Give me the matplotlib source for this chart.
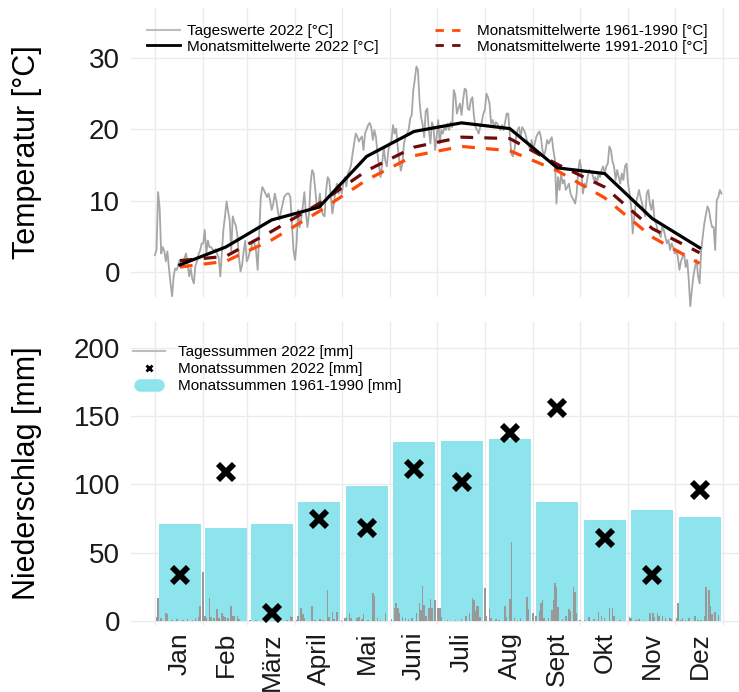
import matplotlib
matplotlib.use("Agg")
import matplotlib.pyplot as plt
from matplotlib.lines import Line2D
from matplotlib.legend_handler import HandlerBase

plt.rcParams['font.family'] = ['Liberation Sans', 'DejaVu Sans']

# ---------------- data ----------------
months = ["Jan", "Feb", "März", "April", "Mai", "Juni", "Juli", "Aug", "Sept", "Okt", "Nov", "Dez"]
month_mid = [17, 46.5, 76, 106.5, 137, 167.5, 198, 229, 259.5, 290, 320.5, 351]
month_start = [1, 32, 60, 91, 121, 152, 182, 213, 244, 274, 305, 335, 366]

temp_daily_2022 = [
    # Jan
    2.4, 3.1, 11.2, 9.0, 2.6, 3.5, 2.9, 1.5, 2.9, 0.5, -1.6, -3.4, -0.6, 0.5, 0.3, 1.0,
    1.7, 1.2, 0.9, 2.0, 2.6, 1.0, -0.6, 0.5, -1.0, -1.6, 0.9, 1.5, 2.5, 3.0, 4.0,
    # Feb
    4.0, 5.9, 2.6, 4.4, 3.5, 3.5, 3.2, 2.9, 3.2, 2.5, 2.0, -0.6, 2.6, 6.0, 7.8, 9.9,
    8.5, 7.3, 3.0, 7.8, 7.0, 6.5, 5.0, 2.0, 0.1, 1.0, 2.9, 4.4,
    # Mar
    1.5, 2.0, 2.9, 3.5, 4.4, 4.0, 2.9, 0.3, 5.4, 10.5, 11.9, 11.5, 11.0, 10.5, 11.0, 10.0,
    8.7, 9.5, 11.0, 10.0, 8.5, 7.3, 8.5, 9.5, 10.5, 10.8, 11.0, 11.0, 10.5, 6.8, 3.1,
    # Apr
    1.7, 4.0, 8.7, 6.3, 7.5, 9.2, 11.2, 8.2, 6.3, 8.2, 12.4, 14.3, 13.8, 11.5, 9.2, 9.2,
    11.0, 8.7, 8.0, 7.8, 11.5, 13.3, 12.9, 10.5, 8.2, 9.6, 11.5, 12.4, 11.0, 12.0,
    # May
    11.0, 12.4, 13.3, 12.0, 13.8, 14.3, 15.0, 16.6, 18.0, 19.4, 19.0, 18.3, 18.7, 19.0, 17.1, 19.4,
    20.0, 20.6, 20.9, 20.3, 18.5, 19.9, 18.9, 16.6, 14.8, 13.3, 15.2, 17.5, 15.6, 14.8, 17.1,
    # Jun
    18.0, 18.5, 20.6, 19.4, 20.1, 17.5, 15.6, 14.2, 15.2, 18.0, 19.0, 19.4, 19.9, 21.5, 22.0, 25.5,
    27.0, 28.8, 28.3, 24.0, 21.7, 20.7, 18.9, 22.6, 22.9, 19.9, 18.0, 21.0, 20.3, 17.1,
    # Jul
    19.0, 21.3, 18.0, 19.9, 19.4, 20.3, 19.9, 20.8, 19.9, 21.0, 20.3, 25.5, 24.8, 22.2, 23.0, 23.6,
    22.0, 24.1, 25.7, 25.5, 22.9, 22.7, 24.1, 24.5, 21.8, 20.3, 19.9, 19.4, 20.3, 21.0, 22.2,
    # Aug
    22.7, 25.0, 24.5, 23.6, 20.8, 21.3, 20.3, 21.0, 20.8, 20.3, 19.9, 20.6, 19.9, 21.0, 22.2, 22.2,
    19.4, 16.6, 16.2, 17.1, 18.9, 19.9, 20.3, 18.9, 20.3, 19.9, 19.4, 18.5, 18.0, 17.1, 18.5,
    # Sep
    17.1, 18.0, 18.9, 19.4, 19.7, 18.9, 17.1, 16.2, 17.1, 18.5, 18.0, 18.5, 18.9, 17.1, 15.7, 9.6,
    13.3, 11.5, 13.8, 12.4, 12.9, 11.5, 11.9, 12.4, 11.0, 10.5, 10.1, 9.6, 11.0, 14.3,
    # Oct
    15.7, 14.3, 11.0, 12.4, 11.9, 13.3, 14.3, 14.0, 13.8, 12.9, 13.3, 12.4, 13.8, 13.3, 14.3, 14.8,
    13.8, 14.8, 15.2, 17.6, 17.1, 15.5, 14.8, 12.9, 14.3, 13.3, 12.4, 13.8, 12.9, 14.8, 15.2,
    # Nov
    12.4, 11.0, 9.2, 5.4, 7.8, 9.6, 10.5, 11.5, 10.5, 9.6, 8.7, 7.8, 11.0, 11.5, 9.6, 8.7,
    10.1, 7.3, 6.8, 5.9, 5.4, 4.9, 6.3, 5.9, 4.9, 4.0, 4.5, 3.1, 4.0, 3.5,
    # Dec
    2.6, 3.1, 2.1, 0.3, 1.5, 2.1, 2.6, 0.7, 1.7, -1.1, -4.8, -2.5, -0.6, 0.7, 1.7, -0.6,
    -1.6, 3.1, 4.9, 6.8, 8.0, 9.2, 8.7, 7.3, 6.3, 6.3, 3.1, 10.1, 10.5, 11.5, 11.0,
]
days = list(range(1, len(temp_daily_2022) + 1))

temp_mean_2022 = [1.0, 3.5, 7.3, 9.1, 16.2, 19.7, 20.9, 20.1, 14.6, 13.8, 7.5, 3.4]
temp_mean_1961_1990 = [0.7, 1.5, 4.5, 8.5, 12.9, 16.3, 17.6, 17.0, 14.2, 10.4, 4.9, 1.2]
temp_mean_1991_2010 = [1.6, 2.2, 5.7, 9.6, 14.2, 17.5, 18.9, 18.7, 15.1, 11.9, 6.1, 2.7]

precip_sum_2022 = [34, 109, 6, 75, 68, 111, 102, 138, 156, 61, 34, 96]
precip_sum_1961_1990 = [71, 68, 71, 87, 99, 131, 132, 133, 87, 74, 81, 76]

precip_days = [
    2, 3, 5, 8, 9, 12, 15, 19, 22, 25, 27, 29, 30,
    32, 33, 34, 36, 37, 39, 41, 42, 44, 45, 46, 48, 50, 51, 52, 54, 55,
    62, 66, 78, 86, 88, 89,
    92, 93, 95, 96, 97, 102, 104, 107, 109, 112, 113, 115, 116, 118,
    121, 123, 124, 126, 127, 131, 132, 134, 135, 138, 141, 142, 144, 146, 149,
    153, 155, 156, 157, 158, 160, 162, 164, 166, 169, 171, 172, 173, 174, 175, 177, 178, 179, 181,
    183, 184, 185, 189, 194, 198, 201, 203, 205, 206, 207, 208, 209, 210,
    213, 214, 216, 217, 220, 222, 226, 227, 229, 230, 232, 234, 236, 240, 241,
    244, 246, 248, 249, 250, 251, 254, 256, 257, 258, 259, 260, 263, 265, 267, 268, 270, 271, 272,
    274, 277, 280, 283, 286, 288, 290, 293, 295, 296, 300,
    306, 307, 310, 312, 315, 319, 321, 322, 324, 325, 327, 329, 332, 333,
    336, 337, 339, 340, 342, 344, 348, 350, 352, 354, 355, 357, 358, 359, 361, 363,
]
precip_mm = [
    3, 16.6, 2, 5.6, 5, 1, 1.2, 1, 1.5, 1, 2, 3, 11,
    36, 3.7, 2, 17, 3, 2, 8.5, 2, 5.6, 4, 3, 2.5, 11, 4, 3.7, 3.7, 1.5,
    0.5, 0.5, 0.5, 1, 4, 3,
    1, 3.7, 9.3, 5, 2.5, 11, 1, 1.5, 1, 22.7, 3, 6.8, 1.5, 6.8,
    1, 2, 3, 5.6, 2, 2, 3, 1.5, 5, 1, 20.7, 18, 2, 1, 5.6,
    1.5, 9.3, 13.4, 9.3, 5.6, 3, 2, 1.5, 2, 5.6, 13.4, 8, 25.6, 12, 4, 9.3, 16, 9.3, 15.6,
    9.3, 9.3, 3, 1, 0.5, 1.2, 3.7, 5.6, 17.1, 15.4, 7.5, 10.9, 10.9, 3,
    23.9, 4, 9, 2, 1.5, 1, 10.9, 3, 15.9, 58, 2, 1, 2, 17.6, 9,
    5.6, 3.7, 7, 13.4, 15.1, 2.5, 2.5, 8, 15.6, 27.6, 25.1, 10, 1.5, 3.7, 9, 7.5, 25.1, 21.5, 5.6,
    1, 1, 3, 1.2, 6.8, 3.7, 2, 9.3, 9.3, 3.7, 1,
    3, 2.5, 1, 1.5, 1, 6, 5.6, 3, 5.6, 4, 4, 2, 2.5, 1.2,
    2, 13.4, 1, 2.5, 1, 2.5, 3.7, 1, 1, 3.7, 25.1, 22.7, 10.9, 5, 6.8, 4.1,
]

# ---------------- styling ----------------
W, H = 739, 692
fig = plt.figure(figsize=(W / 100, H / 100), dpi=100)

def ax_rect(left, top, right, bottom):
    return [left / W, 1 - bottom / H, (right - left) / W, (bottom - top) / H]

GRID = "#EBEBEB"
XLIM = (-14.4, 376.3)
C_DAILY = "#A6A6A6"
C_6190 = "#FF4A0A"
C_9110 = "#6E0A0A"
C_BAR = "#8EE4EC"
TICK_C = "#1a1a1a"


class HandlerPill(HandlerBase):
    """Short thick line with round caps (ggplot-like fill key)."""
    def create_artists(self, legend, orig_handle, xdescent, ydescent, width, height, fontsize, trans):
        inset = 5
        ln = Line2D([-xdescent + inset, -xdescent + width - inset], [height / 2 - ydescent] * 2,
                    color=orig_handle.get_color(), lw=orig_handle.get_linewidth(),
                    solid_capstyle="round", transform=trans)
        return [ln]


# ---------------- top panel ----------------
ax1 = fig.add_axes(ax_rect(131, 8, 739, 297))
ax1.set_xlim(*XLIM)
ax1.set_ylim(-3.5, 37.0)
for s in ax1.spines.values():
    s.set_visible(False)
for d in month_start:
    ax1.axvline(d, color=GRID, lw=1.0, zorder=0)
for yv in [0, 10, 20, 30]:
    ax1.axhline(yv, color=GRID, lw=1.0, zorder=0)
ax1.plot(days, temp_daily_2022, color=C_DAILY, lw=1.3, zorder=2, clip_on=False)
ax1.plot(month_mid, temp_mean_1961_1990, color=C_6190, lw=2.3, dashes=(4, 3.5), zorder=3)
ax1.plot(month_mid, temp_mean_1991_2010, color=C_9110, lw=2.3, dashes=(4, 3.5), zorder=3)
ax1.plot(month_mid, temp_mean_2022, color="black", lw=2.3, zorder=4)
ax1.set_xticks([])
ax1.set_yticks([0, 10, 20, 30])
ax1.tick_params(axis="y", length=0, labelsize=20, pad=8, labelcolor=TICK_C)
ax1.set_ylabel("Temperatur [°C]", fontsize=22)
ax1.yaxis.set_label_coords(-0.146, 0.5)

h_daily = Line2D([], [], color="#BDBDBD", lw=1.5)
h_m22 = Line2D([], [], color="black", lw=2.0)
h_6190 = Line2D([], [], color=C_6190, lw=2.0, dashes=(3, 3))
h_9110 = Line2D([], [], color=C_9110, lw=2.0, dashes=(3, 3))
fig.legend([h_daily, h_m22], ["Tageswerte 2022 [°C]", "Monatsmittelwerte 2022 [°C]"],
           loc="upper left", bbox_to_anchor=(147 / W, 1 - 24 / H), frameon=False,
           fontsize=11, handlelength=2.15, handletextpad=0.45, labelspacing=0.1,
           borderpad=0, borderaxespad=0)
fig.legend([h_6190, h_9110], ["Monatsmittelwerte 1961-1990 [°C]", "Monatsmittelwerte 1991-2010 [°C]"],
           loc="upper left", bbox_to_anchor=(435 / W, 1 - 24 / H), frameon=False,
           fontsize=11, handlelength=2.15, handletextpad=0.6, labelspacing=0.1,
           borderpad=0, borderaxespad=0)

# ---------------- bottom panel ----------------
ax2 = fig.add_axes(ax_rect(131, 322, 739, 625))
ax2.set_xlim(*XLIM)
ax2.set_ylim(-2.9, 219)
for s in ax2.spines.values():
    s.set_visible(False)
for d in month_start:
    ax2.axvline(d, color=GRID, lw=1.0, zorder=0)
for yv in [0, 50, 100, 150, 200]:
    ax2.axhline(yv, color=GRID, lw=1.0, zorder=0)
ax2.bar(month_mid, precip_sum_1961_1990, width=27, color=C_BAR, zorder=1)
ax2.bar(precip_days, precip_mm, width=1.0, color="#999999", zorder=2)
ax2.plot(month_mid, precip_sum_2022, linestyle="none", marker="x", color="black",
         markersize=12, mew=4.2, zorder=4)
ax2.set_xticks(month_mid)
ax2.set_xticklabels(months, rotation=90)
ax2.tick_params(axis="x", length=0, labelsize=19, pad=5, labelcolor=TICK_C)
ax2.set_yticks([0, 50, 100, 150, 200])
ax2.tick_params(axis="y", length=0, labelsize=20, pad=8, labelcolor=TICK_C)
ax2.set_ylabel("Niederschlag [mm]", fontsize=22)
ax2.yaxis.set_label_coords(-0.146, 0.5)

h_pd = Line2D([], [], color="#BDBDBD", lw=1.5)
h_ps = Line2D([], [], color="black", lw=0, marker="x", markersize=5, mew=2)
h_pc = Line2D([], [], color=C_BAR, lw=9)
fig.legend([h_pd, h_ps, h_pc], ["Tagessummen 2022 [mm]", "Monatssummen 2022 [mm]", "Monatssummen 1961-1990 [mm]"],
           loc="upper left", bbox_to_anchor=(133 / W, 1 - 345 / H), frameon=False,
           fontsize=11, handlelength=2.1, handletextpad=0.85, labelspacing=0.2,
           borderpad=0, borderaxespad=0, handler_map={h_pc: HandlerPill()})

fig.savefig("out.png", dpi=100)
